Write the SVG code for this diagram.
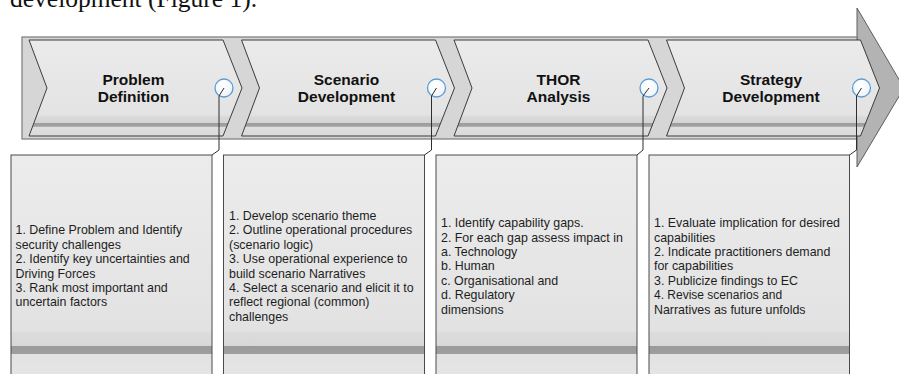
<svg xmlns="http://www.w3.org/2000/svg" width="899" height="374" viewBox="0 0 899 374">
  <style>
    .caption { font-family: "Liberation Serif", "Times New Roman", serif; font-size: 25.5px; fill: #111; }
    .shaft { fill: #d6d6d6; stroke: #7a7a7a; stroke-width: 1.2; }
    .head { fill: #b3b3b3; stroke: #5e5e5e; stroke-width: 1; }
    .chev { fill: url(#chevFill); stroke: #3c3c3c; stroke-width: 1; }
    .title { font-family: "Liberation Sans", Arial, sans-serif; font-size: 15.5px; font-weight: bold; fill: #111; text-anchor: middle; }
    .knob { fill: url(#knobFill); stroke: #5b9bd5; stroke-width: 1.3; }
    .box { fill: url(#boxFill); stroke: #4a4a4a; stroke-width: 1; }
    .body { font-family: "Liberation Sans", Arial, sans-serif; font-size: 12.4px; fill: #1e1e1e; }
    .wire { fill: none; stroke: #2e2e2e; stroke-width: 1; }
  </style>
  <defs>
    <linearGradient id="chevFill" x1="0" y1="0" x2="0" y2="1">
      <stop offset="0" stop-color="#ebebeb"/>
      <stop offset="0.78" stop-color="#e3e3e3"/>
      <stop offset="0.8" stop-color="#dadada"/>
      <stop offset="0.86" stop-color="#d4d4d4"/>
      <stop offset="0.865" stop-color="#9c9c9c"/>
      <stop offset="0.9" stop-color="#a2a2a2"/>
      <stop offset="0.905" stop-color="#dedede"/>
      <stop offset="1" stop-color="#dadada"/>
    </linearGradient>
    <linearGradient id="boxFill" gradientUnits="userSpaceOnUse" x1="0" y1="155" x2="0" y2="374">
      <stop offset="0" stop-color="#ececec"/>
      <stop offset="0.805" stop-color="#e2e2e2"/>
      <stop offset="0.81" stop-color="#dcdcdc"/>
      <stop offset="0.872" stop-color="#d8d8d8"/>
      <stop offset="0.873" stop-color="#9a9a9a"/>
      <stop offset="0.909" stop-color="#9e9e9e"/>
      <stop offset="0.91" stop-color="#e2e2e2"/>
      <stop offset="1" stop-color="#e5e5e5"/>
    </linearGradient>
    <radialGradient id="knobFill" cx="0.4" cy="0.35" r="0.7">
      <stop offset="0" stop-color="#ffffff"/>
      <stop offset="1" stop-color="#eef3f8"/>
    </radialGradient>
  </defs>

  <text class="caption" x="10" y="6.5">development (Figure 1).</text>

  <!-- big process arrow: shaft and head -->
  <g id="process-arrow">
    <path class="head" d="M857,37 L857,8 L904,88 L857,167 L857,139 Z"/>
    <rect class="shaft" x="22" y="37" width="835" height="102"/>
  </g>

  <!-- stage 1 -->
  <g id="stage-problem-definition">
    <path class="chev" d="M29,40 L223,40 L242,88 L223,136 L29,136 L47,88 Z"/>
    <text class="title" x="133.5" y="85">Problem</text>
    <text class="title" x="133.5" y="102">Definition</text>
    <circle class="knob" cx="224" cy="88" r="9"/>
  </g>

  <!-- stage 2 -->
  <g id="stage-scenario-development">
    <path class="chev" d="M241.5,40 L435.5,40 L454.5,88 L435.5,136 L241.5,136 L259.5,88 Z"/>
    <text class="title" x="346.5" y="85">Scenario</text>
    <text class="title" x="346.5" y="102">Development</text>
    <circle class="knob" cx="436.5" cy="88" r="9"/>
  </g>

  <!-- stage 3 -->
  <g id="stage-thor-analysis">
    <path class="chev" d="M454,40 L648,40 L667,88 L648,136 L454,136 L472,88 Z"/>
    <text class="title" x="558.5" y="85">THOR</text>
    <text class="title" x="558.5" y="102">Analysis</text>
    <circle class="knob" cx="649" cy="88" r="9"/>
  </g>

  <!-- stage 4 -->
  <g id="stage-strategy-development">
    <path class="chev" d="M666.5,40 L860.5,40 L879.5,88 L860.5,136 L666.5,136 L684.5,88 Z"/>
    <text class="title" x="771" y="85">Strategy</text>
    <text class="title" x="771" y="102">Development</text>
    <circle class="knob" cx="861.5" cy="88" r="9"/>
  </g>

  <!-- detail boxes -->
  <g id="detail-problem-definition">
    <rect class="box" x="11" y="155" width="201" height="225"/>
    <text class="body" y="234.4">
      <tspan x="15.5">1. Define Problem and Identify</tspan>
      <tspan x="15.5" dy="14.4">security challenges</tspan>
      <tspan x="15.5" dy="14.4">2. Identify key uncertainties and</tspan>
      <tspan x="15.5" dy="14.4">Driving Forces</tspan>
      <tspan x="15.5" dy="14.4">3. Rank most important and</tspan>
      <tspan x="15.5" dy="14.4">uncertain factors</tspan>
    </text>
  </g>

  <g id="detail-scenario-development">
    <rect class="box" x="223.5" y="155" width="201" height="225"/>
    <text class="body" y="220">
      <tspan x="229">1. Develop scenario theme</tspan>
      <tspan x="229" dy="14.4">2. Outline operational procedures</tspan>
      <tspan x="229" dy="14.4">(scenario logic)</tspan>
      <tspan x="229" dy="14.4">3. Use operational experience to</tspan>
      <tspan x="229" dy="14.4">build scenario Narratives</tspan>
      <tspan x="229" dy="14.4">4. Select a scenario and elicit it to</tspan>
      <tspan x="229" dy="14.4">reflect regional (common)</tspan>
      <tspan x="229" dy="14.4">challenges</tspan>
    </text>
  </g>

  <g id="detail-thor-analysis">
    <rect class="box" x="436" y="155" width="201" height="225"/>
    <text class="body" y="227.2">
      <tspan x="441">1. Identify capability gaps.</tspan>
      <tspan x="441" dy="14.4">2. For each gap assess impact in</tspan>
      <tspan x="441" dy="14.4">a. Technology</tspan>
      <tspan x="441" dy="14.4">b. Human</tspan>
      <tspan x="441" dy="14.4">c. Organisational and</tspan>
      <tspan x="441" dy="14.4">d. Regulatory</tspan>
      <tspan x="441" dy="14.4">dimensions</tspan>
    </text>
  </g>

  <g id="detail-strategy-development">
    <rect class="box" x="649" y="155" width="200.5" height="225"/>
    <text class="body" y="227.2">
      <tspan x="654">1. Evaluate implication for desired</tspan>
      <tspan x="654" dy="14.4">capabilities</tspan>
      <tspan x="654" dy="14.4">2. Indicate practitioners demand</tspan>
      <tspan x="654" dy="14.4">for capabilities</tspan>
      <tspan x="654" dy="14.4">3. Publicize findings to EC</tspan>
      <tspan x="654" dy="14.4" style="font-size:12px">4. Revise scenarios and</tspan>
      <tspan x="654" dy="14.4">Narratives as future unfolds</tspan>
    </text>
  </g>

  <!-- callout leaders from each stage knob down to its detail box -->
  <g id="connectors">
    <path class="wire" d="M224,88 L219,96 L219,150 L212,155"/>
    <path class="wire" d="M436.5,88 L431.5,96 L431.5,150 L424.5,155"/>
    <path class="wire" d="M649,88 L643,96 L643,150 L637,155"/>
    <path class="wire" d="M861.5,88 L856.5,96 L856.5,150 L849.5,155"/>
  </g>
</svg>
